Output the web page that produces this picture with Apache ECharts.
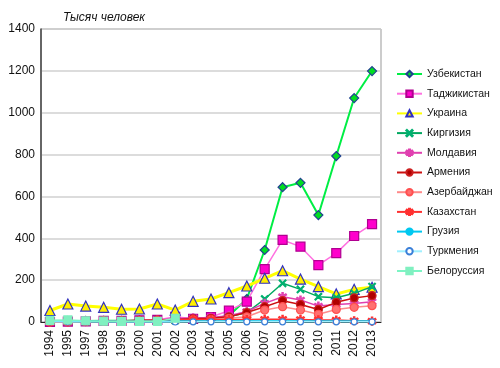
<!DOCTYPE html>
<html><head><meta charset="utf-8">
<script src="https://cdn.jsdelivr.net/npm/echarts@6/dist/echarts.min.js"></script>
<style>html,body{margin:0;padding:0;background:#fff}#c{width:500px;height:368px}</style>
</head><body><div id="c"></div>
<script>
var years = ['1994','1995','1997','1998','1999','2000','2001','2002','2003','2004','2005','2006','2007','2008','2009','2010','2011','2012','2013'];
var yTicks = [0,200,400,600,800,1000,1200,1400];
var names = ['Узбекистан','Таджикистан','Украина','Киргизия','Молдавия','Армения','Азербайджан','Казахстан','Грузия','Туркмения','Белоруссия'];
var uzbekistan  = [3,4,5,6,6,7,8,10,12,15,30,110,344,644,665,511,793,1070,1199];
var tajikistan  = [0,2,3,5,5,8,10,25,15,24,54,97,253,392,360,272,329,411,468];
var ukraine     = [55,86,76,70,61,62,86,57,99,110,140,172,209,245,205,169,134,156,166];
var kirgizia    = [2,3,3,4,4,5,6,8,10,15,25,45,110,185,156,121,116,137,169];
var moldavia    = [1,2,3,5,5,7,9,15,20,22,30,50,89,121,105,76,84,88,97];
var armenia     = [0,2,3,6,5,8,9,12,15,18,25,45,73,102,84,60,94,115,126];
var azerbaijan  = [0,1,2,3,3,4,5,8,10,12,18,25,57,73,57,37,60,70,78];
var kazakhstan  = [0,2,3,5,4,6,8,10,12,12,12,12,13,13,12,10,9,6,4];
var georgia     = [5,4,3,3,2,2,2,3,3,3,3,3,3,3,3,3,3,3,3];
var turkmenia   = [0,0,0,0,0,0,0,0,1,1,1,1,1,1,1,1,1,1,1];
var belorussia  = [8,10,6,4,3,3,3,18,null,null,null,null,null,null,null,null,null,null,null];

var xPath = 'path://M1,0L5,4L9,0L10,1L6,5L10,9L9,10L5,6L1,10L0,9L4,5L0,1Z';
var starPath = 'path://M4.3,0H5.7V3.3L8.5,1.5L9.3,2.7L6.4,5L9.3,7.3L8.5,8.5L5.7,6.7V10H4.3V6.7L1.5,8.5L0.7,7.3L3.6,5L0.7,2.7L1.5,1.5L4.3,3.3Z';

function s(name, data, color, lw, symbol, size, fill, border, z){
  return {name:name, type:'line', data:data, symbol:symbol, symbolSize:size, showSymbol:symbol!=='none',
    lineStyle:{color:color, width:lw}, itemStyle:{color:fill, borderColor:border, borderWidth:1.2},
    z:z, zlevel:0, animation:false, connectNulls:false};
}
var series = [
  s(names[0], uzbekistan, '#00ee44', 2, 'diamond', 9, '#00dd22', '#204090', 2),
  s(names[1], tajikistan, '#ff70e0', 1.5, 'rect', 9, '#ff00cc', '#b00090', 3),
  s(names[2], ukraine, '#ffff00', 3, 'triangle', 10, '#ffee00', '#3030c0', 4),
  s(names[3], kirgizia, '#00a860', 1.5, xPath, 7, '#00b070', '#00b070', 5),
  s(names[4], moldavia, '#e040b0', 1.5, starPath, 8, '#ff70d0', '#e040b0', 6),
  s(names[5], armenia, '#cc1010', 1.5, 'circle', 8, '#b00000', '#cc2020', 7),
  s(names[6], azerbaijan, '#ff8a8a', 1.5, 'circle', 8, '#ff7070', '#ff5050', 8),
  s(names[7], kazakhstan, '#ff3030', 1.5, starPath, 8, '#ff6060', '#ff3030', 9),
  s(names[8], georgia, '#00c8f0', 2, 'none', 0, '#00c8f0', '#00c8f0', 10),
  s(names[9], turkmenia, '#9ff0ff', 1.5, 'circle', 6, '#ffffff', '#3a7fd8', 11),
  s(names[10], belorussia, '#7cf5c4', 1.5, 'rect', 8, '#80f0c0', '#80f0c0', 12)
];

var chart = echarts.init(document.getElementById('c'), null, {renderer:'canvas'});
chart.setOption({
  animation:false,
  backgroundColor:'#fff',
  title:{text:'Тысяч человек', left:58, top:7, textStyle:{fontFamily:'Liberation Sans', fontStyle:'italic', fontWeight:'normal', fontSize:12, color:'#111'}},
  grid:{left:41, right:119, top:29, bottom:46, show:true, borderColor:'#999', borderWidth:1},
  legend:{orient:'vertical', left:391, top:63, itemWidth:25, itemHeight:8, itemGap:7.7,
    data:names, textStyle:{fontFamily:'Liberation Sans', fontSize:10.5, color:'#111', lineHeight:12}},
  xAxis:{type:'category', data:years, boundaryGap:true,
    axisLine:{lineStyle:{color:'#222', width:1}}, axisTick:{show:false},
    axisLabel:{rotate:90, interval:0, fontFamily:'Liberation Sans', fontSize:12, color:'#111', margin:8}},
  yAxis:{type:'value', min:yTicks[0], max:yTicks[yTicks.length-1], interval:200,
    axisLine:{show:true, lineStyle:{color:'#444', width:1.5}}, axisTick:{show:false},
    splitLine:{lineStyle:{color:'#d0d0d0', width:1.5}},
    axisLabel:{fontFamily:'Liberation Sans', fontSize:12, color:'#111', margin:6, formatter:function(v){return String(v);}}},
  series:series
});
</script></body></html>
